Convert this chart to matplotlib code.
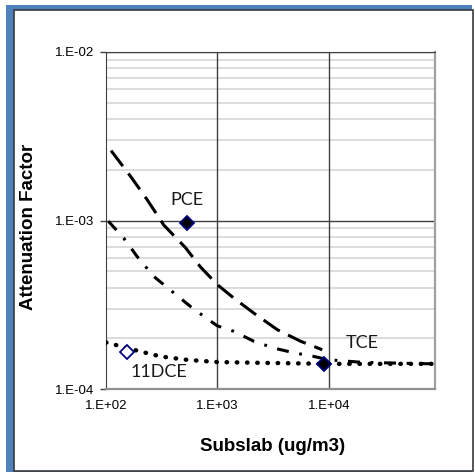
import numpy as np
import matplotlib
matplotlib.use('Agg')
import matplotlib.pyplot as plt
from matplotlib.patches import Rectangle

# Trend curves (Subslab ug/m3 vs attenuation factor)
pce_x = [111, 166, 234, 330, 517, 705, 1000, 1400, 2125, 3450, 5590, 8750]
pce_y = [2.6e-3, 1.83e-3, 1.33e-3, 9.4e-4, 6.9e-4, 5.3e-4, 4.16e-4, 3.47e-4,
         2.82e-4, 2.25e-4, 1.92e-4, 1.71e-4]

tce_x = [105, 144, 190, 268, 406, 573, 755, 1000, 1400, 2125, 3210, 4860,
         7360, 10000, 20000, 50000, 90000]
tce_y = [9.9e-4, 7.87e-4, 6.12e-4, 4.66e-4, 3.72e-4, 3.09e-4, 2.7e-4, 2.37e-4,
         2.2e-4, 1.92e-4, 1.75e-4, 1.64e-4, 1.56e-4, 1.49e-4, 1.44e-4, 1.42e-4, 1.41e-4]

dce_x = [100, 177, 308, 534, 995, 2440, 5000, 10000, 30000, 90000]
dce_y = [1.89e-4, 1.71e-4, 1.56e-4, 1.49e-4, 1.445e-4, 1.43e-4, 1.42e-4,
         1.41e-4, 1.41e-4, 1.41e-4]

# Measured points
pts_name = ['PCE', 'TCE', '11DCE']
pts_x = [530, 9060, 155]
pts_y = [9.7e-4, 1.41e-4, 1.66e-4]
pts_filled = [True, True, False]

# label positions
lbl_x = [535, 20000, 301]
lbl_y = [1.33e-3, 1.88e-4, 1.26e-4]

xticks = [1e2, 1e3, 1e4]
xtick_labels = ['1.E+02', '1.E+03', '1.E+04']
yticks = [1e-4, 1e-3, 1e-2]
ytick_labels = ['1.E-04', '1.E-03', '1.E-02']

W, H = 475, 472
fig = plt.figure(figsize=(W / 100, H / 100), dpi=100)
fig.patch.set_facecolor('white')

# blue frame + dark inner border
fig.patches.append(Rectangle((6 / W, 0), (472 - 6) / W, (H - 5) / H, transform=fig.transFigure,
                             facecolor='#4f81bd', edgecolor='none', zorder=-3))
fig.patches.append(Rectangle((13.5 / W, 1.5 / H), (473 - 13.5) / W, (H - 9.5 - 1.5) / H,
                             transform=fig.transFigure, facecolor='white',
                             edgecolor='#3a3a3a', linewidth=1.2, zorder=-2))

ax = fig.add_axes([106 / W, 1 - 389 / H, 329 / W, 337 / H])
ax.set_xscale('log')
ax.set_yscale('log')
ax.set_xlim(100, 90000)
ax.set_ylim(1e-4, 1e-2)

# grid
for dec in [1e-4, 1e-3]:
    for m in range(2, 10):
        ax.axhline(m * dec, color='#d9d9d9', lw=1.3, zorder=0)
for yv in yticks[1:]:
    ax.axhline(yv, color='#404040', lw=1.0, zorder=1)
for xv in xticks[1:]:
    ax.axvline(xv, color='#404040', lw=1.0, zorder=1)

# curves
ax.plot(pce_x, pce_y, color='black', lw=2.2, dashes=(6.4, 3), zorder=3)
ax.plot(tce_x, tce_y, color='black', lw=2.2, dashes=(3.9, 3.5, 0.9, 3.5), zorder=3)
ax.plot(dce_x, dce_y, color='black', lw=3.2, dashes=(0.1, 2.2),
        dash_capstyle='round', zorder=3)

for x, y, filled in zip(pts_x, pts_y, pts_filled):
    ax.plot([x], [y], marker='D', ms=7.3, mec='#000080', mew=1.3,
            mfc='black' if filled else 'white', zorder=5)

for name, x, y in zip(pts_name, lbl_x, lbl_y):
    ax.text(x, y, name, ha='center', va='center', fontsize=13,
            family='Lato', color='#1a1a1a', zorder=6)

ax.set_xticks(xticks)
ax.set_xticklabels(xtick_labels)
ax.set_yticks(yticks)
ax.set_yticklabels(ytick_labels)
ax.minorticks_off()
ax.tick_params(axis='x', length=0, pad=8, labelsize=9.5)
ax.tick_params(axis='y', length=4.5, width=1, color='#404040', pad=4, labelsize=9.5)
for lab in ax.get_xticklabels() + ax.get_yticklabels():
    lab.set_family('Liberation Sans')

ax.spines['left'].set_color('#404040')
ax.spines['top'].set_color('#404040')
ax.spines['right'].set_color('#a0a0a0')
ax.spines['right'].set_linewidth(1.6)
ax.spines['bottom'].set_linewidth(1.6)
ax.spines['bottom'].set_color('#909090')

ax.set_xlabel('Subslab (ug/m3)', fontsize=13.5, fontweight='bold', family='Liberation Sans')
ax.set_ylabel('Attenuation Factor', fontsize=13.5, fontweight='bold', family='Liberation Sans')
ax.xaxis.set_label_coords((273 - 106) / 329, (389 - 446.7) / 337)
ax.xaxis.label.set_va('center')
ax.yaxis.set_label_coords((29 - 106) / 329, (389 - 227) / 337)
ax.yaxis.label.set_va('center')

fig.savefig('out.png', dpi=100)
